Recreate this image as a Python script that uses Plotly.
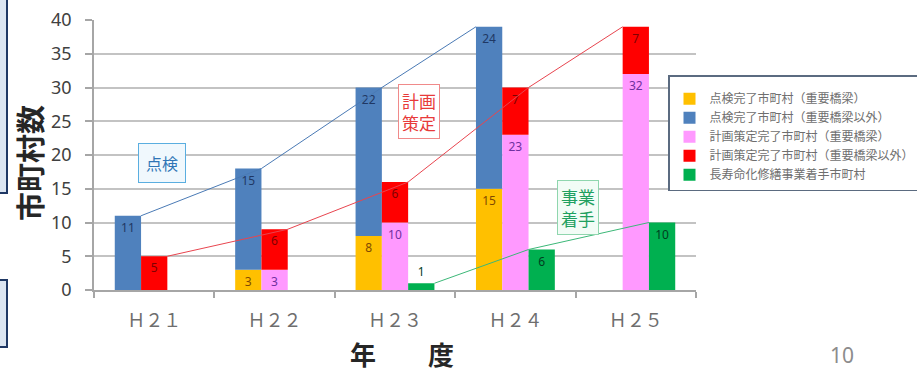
import plotly.graph_objects as go

years = ["Ｈ２１", "Ｈ２２", "Ｈ２３", "Ｈ２４", "Ｈ２５"]
insp_major = [None, 3, 8, 15, None]      # 点検完了(重要橋梁)
insp_other = [11, 15, 22, 24, None]      # 点検完了(重要橋梁以外)
plan_major = [None, 3, 10, 23, 32]       # 計画策定完了(重要橋梁)
plan_other = [5, 6, 6, 7, 7]             # 計画策定完了(重要橋梁以外)
project = [None, None, 1, 6, 10]         # 長寿命化修繕事業着手

names = ["点検完了市町村（重要橋梁）", "点検完了市町村（重要橋梁以外）",
         "計画策定完了市町村（重要橋梁）", "計画策定完了市町村（重要橋梁以外）",
         "長寿命化修繕事業着手市町村"]
colors = ["#FFC000", "#4F81BD", "#FF99FF", "#FF0000", "#00B050"]
label_colors = ["#7f4a00", "#1f3864", "#7030a0", "#7f0000", "#003d1f"]

xi = list(range(len(years)))
z = lambda arr: [v if v is not None else 0 for v in arr]

BARGAP = 0.345
W = (1 - BARGAP) / 3
def edge(slot, side):
    left = -(1 - BARGAP) / 2 + slot * W
    return left + (W if side == "r" else 0)

fig = go.Figure()
series = [
    (insp_major, None, "a"),
    (insp_other, z(insp_major), "a"),
    (plan_major, None, "b"),
    (plan_other, z(plan_major), "b"),
    (project, None, "c"),
]
for i, (vals, base, grp) in enumerate(series):
    tp = ["auto" if (v is not None and v >= 2) else "outside" for v in vals]
    fig.add_trace(go.Bar(
        x=xi, y=vals, base=base, offsetgroup=grp, name=names[i],
        marker=dict(color=colors[i], line=dict(width=0)),
        text=[str(v) if v is not None else "" for v in vals],
        textposition=tp, insidetextanchor="end", textangle=0,
        constraintext="none",
        textfont=dict(family="Noto Sans", size=12, color=label_colors[i]),
        cliponaxis=False,
    ))

# connecting lines between bar tops
insp_tot = [a + b for a, b in zip(z(insp_major), z(insp_other))]
plan_tot = [a + b for a, b in zip(z(plan_major), z(plan_other))]
insp_line_idx = [(0, "r"), (1, "r"), (2, "r"), (3, "l")]
plan_line_idx = [(0, "r"), (1, "r"), (2, "r"), (3, "r"), (4, "l")]
proj_line_idx = [(2, "r"), (3, "l"), (4, "l")]
for idx, tot, slot, col in [(insp_line_idx, insp_tot, 0, "#4a7ab5"),
                            (plan_line_idx, plan_tot, 1, "#e8454f"),
                            (proj_line_idx, z(project), 2, "#3cb878")]:
    fig.add_trace(go.Scatter(
        x=[i + edge(slot, s) for i, s in idx], y=[tot[i] for i, s in idx],
        mode="lines", line=dict(color=col, width=1), showlegend=False,
        hoverinfo="skip"))

L, R, T, B = 94, 696, 20, 290
FW, FH = 917, 373
def px(x): return (x - L) / (R - L)
def py(y): return (B - y) / (B - T)

shapes = [
    dict(type="rect", xref="paper", yref="paper", x0=px(-10), x1=px(7), y0=py(193), y1=py(-10),
         fillcolor="#dbe5f1", line=dict(color="#1f3864", width=2), layer="above"),
    dict(type="rect", xref="paper", yref="paper", x0=px(-10), x1=px(7), y0=py(347), y1=py(280),
         fillcolor="#dbe5f1", line=dict(color="#1f3864", width=2), layer="above"),
]

C = dict(xref="paper", yref="paper", showarrow=False, xanchor="center", yanchor="middle")
annos = [
    dict(text="点検", x=px(162), y=py(163),
         font=dict(family="Noto Sans CJK JP", size=16, color="#2e75b6"),
         bgcolor="#f0f8fd", bordercolor="#5aaee0", borderwidth=1, borderpad=7, **C),
    dict(text="計画<br>策定", x=px(419), y=py(111),
         font=dict(family="Noto Sans CJK JP", size=17, color="#e83a3a"),
         bgcolor="#ffffff", bordercolor="#f08a8a", borderwidth=1, borderpad=3, **C),
    dict(text="事業<br>着手", x=px(578), y=py(207),
         font=dict(family="Noto Sans CJK JP", size=17, color="#1fa060"),
         bgcolor="#f2fcf6", bordercolor="#8fd6ae", borderwidth=1, borderpad=3, **C),
    dict(text="<b>市町村数</b>", x=px(29), y=py(163),
         textangle=-90, font=dict(family="Noto Sans CJK JP", size=29, color="#262626"), **C),
    dict(text="<b>年　　度</b>", x=px(402), y=py(353),
         font=dict(family="Noto Sans CJK JP", size=26, color="#262626"), **C),
    dict(text="10", x=px(842), y=py(355),
         font=dict(family="Noto Sans", size=21, color="#8c8c8c"), **C),
]

fig.update_layout(
    width=FW, height=FH,
    margin=dict(l=L, r=FW - R, t=T, b=FH - B, autoexpand=False),
    paper_bgcolor="white", plot_bgcolor="white",
    barmode="group", bargap=BARGAP, bargroupgap=0,
    showlegend=True,
    legend=dict(x=px(668), y=py(75), xanchor="left", yanchor="top",
                bgcolor="white", bordercolor="#5b6b80", borderwidth=1.5,
                font=dict(family="Noto Sans CJK JP", size=12, color="#6e6e6e"),
                title=dict(text=" ", font=dict(size=6)),
                traceorder="normal", itemwidth=30),
    xaxis=dict(range=[-0.5, 4.5], tickmode="array", tickvals=xi, ticktext=years,
               ticks="", showgrid=False, zeroline=False,
               showline=True, linecolor="#a6a6a6", linewidth=1.5,
               tickfont=dict(family="Noto Sans CJK JP", size=18, color="#6e6e6e"),
               ticklabelstandoff=14,
               minor=dict(tick0=-0.5, dtick=1, ticks="outside", ticklen=6,
                          tickcolor="#a6a6a6", tickwidth=1.5, showgrid=False)),
    yaxis=dict(range=[0, 40], dtick=5, showgrid=True, gridcolor="#c3c3c3", gridwidth=1.5,
               zeroline=False, showline=True, linecolor="#a6a6a6", linewidth=1.5,
               ticks="outside", ticklen=7, tickcolor="#a6a6a6", tickwidth=1.5,
               ticklabelstandoff=10,
               tickfont=dict(family="Noto Sans", size=18, color="#404040")),
    shapes=shapes, annotations=annos,
)

fig.write_html("out.html")
